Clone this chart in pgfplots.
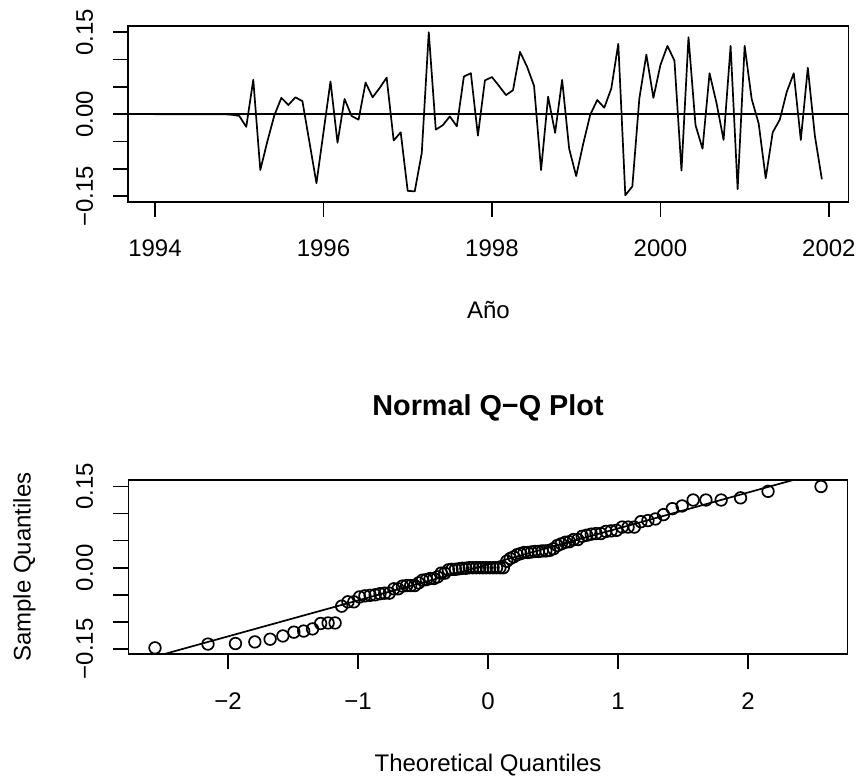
\documentclass[border=0pt]{standalone}
\usepackage{fontspec}
\setmainfont{Liberation Sans}
\usepackage{pgfplots}
\pgfplotsset{compat=1.18}
\usepackage{pgfplotstable}

\pgfplotstableread{
year value
1994.0000 0
1994.0833 0
1994.1667 0
1994.2500 0
1994.3333 0
1994.4167 0
1994.5000 0
1994.5833 0
1994.6667 0
1994.7500 0
1994.8333 0
1994.9167 -0.001
1995.0000 -0.003
1995.0833 -0.023
1995.1667 0.063
1995.2500 -0.102
1995.3333 -0.050
1995.4167 -0.002
1995.5000 0.030
1995.5833 0.017
1995.6667 0.031
1995.7500 0.024
1995.8333 -0.051
1995.9167 -0.126
1996.0000 -0.033
1996.0833 0.060
1996.1667 -0.052
1996.2500 0.028
1996.3333 -0.003
1996.4167 -0.010
1996.5000 0.058
1996.5833 0.031
1996.6667 0.048
1996.7500 0.067
1996.8333 -0.048
1996.9167 -0.033
1997.0000 -0.140
1997.0833 -0.141
1997.1667 -0.071
1997.2500 0.150
1997.3333 -0.028
1997.4167 -0.020
1997.5000 -0.004
1997.5833 -0.022
1997.6667 0.069
1997.7500 0.075
1997.8333 -0.039
1997.9167 0.062
1998.0000 0.068
1998.0833 0.052
1998.1667 0.035
1998.2500 0.044
1998.3333 0.114
1998.4167 0.087
1998.5000 0.052
1998.5833 -0.102
1998.6667 0.032
1998.7500 -0.034
1998.8333 0.063
1998.9167 -0.063
1999.0000 -0.113
1999.0833 -0.054
1999.1667 -0.001
1999.2500 0.026
1999.3333 0.012
1999.4167 0.047
1999.5000 0.129
1999.5833 -0.148
1999.6667 -0.132
1999.7500 0.029
1999.8333 0.109
1999.9167 0.030
2000.0000 0.090
2000.0833 0.125
2000.1667 0.098
2000.2500 -0.103
2000.3333 0.141
2000.4167 -0.020
2000.5000 -0.063
2000.5833 0.075
2000.6667 0.020
2000.7500 -0.047
2000.8333 0.125
2000.9167 -0.137
2001.0000 0.125
2001.0833 0.028
2001.1667 -0.017
2001.2500 -0.117
2001.3333 -0.033
2001.4167 -0.010
2001.5000 0.041
2001.5833 0.075
2001.6667 -0.047
2001.7500 0.085
2001.8333 -0.039
2001.9167 -0.119
}\tsdata

\pgfplotstableread{
theo sample
-2.5615 -0.148
-2.1540 -0.141
-1.9425 -0.140
-1.7934 -0.137
-1.6760 -0.132
-1.5779 -0.126
-1.4931 -0.119
-1.4178 -0.117
-1.3498 -0.113
-1.2875 -0.103
-1.2299 -0.102
-1.1760 -0.102
-1.1254 -0.071
-1.0775 -0.063
-1.0320 -0.063
-0.9885 -0.054
-0.9468 -0.052
-0.9067 -0.051
-0.8680 -0.050
-0.8305 -0.048
-0.7942 -0.047
-0.7589 -0.047
-0.7245 -0.039
-0.6910 -0.039
-0.6582 -0.034
-0.6261 -0.033
-0.5947 -0.033
-0.5638 -0.033
-0.5334 -0.028
-0.5036 -0.023
-0.4741 -0.022
-0.4451 -0.020
-0.4164 -0.020
-0.3881 -0.017
-0.3601 -0.010
-0.3324 -0.010
-0.3049 -0.004
-0.2777 -0.003
-0.2507 -0.003
-0.2238 -0.002
-0.1971 -0.001
-0.1706 -0.001
-0.1441 0
-0.1178 0
-0.0915 0
-0.0653 0
-0.0392 0
-0.0131 0
0.0131 0
0.0392 0
0.0653 0
0.0915 0
0.1178 0
0.1441 0.012
0.1706 0.017
0.1971 0.020
0.2238 0.024
0.2507 0.026
0.2777 0.028
0.3049 0.028
0.3324 0.029
0.3601 0.030
0.3881 0.030
0.4164 0.031
0.4451 0.031
0.4741 0.032
0.5036 0.035
0.5334 0.041
0.5638 0.044
0.5947 0.047
0.6261 0.048
0.6582 0.052
0.6910 0.052
0.7245 0.058
0.7589 0.060
0.7942 0.062
0.8305 0.063
0.8680 0.063
0.9067 0.067
0.9468 0.068
0.9885 0.069
1.0320 0.075
1.0775 0.075
1.1254 0.075
1.1760 0.085
1.2299 0.087
1.2875 0.090
1.3498 0.098
1.4178 0.109
1.4931 0.114
1.5779 0.125
1.6760 0.125
1.7934 0.125
1.9425 0.129
2.1540 0.141
2.5615 0.150
}\qqdata

\begin{document}
\begin{tikzpicture}
\useasboundingbox (0,0) rectangle (430.5pt,-389pt);
\pgfplotsset{
  rstyle/.style={
    scale only axis,
    axis line style={black, line width=0.85pt},
    tick align=outside,
    major tick length=7.5pt,
    every tick/.style={black, line width=0.85pt},
    xtick pos=left, ytick pos=left,
    tick label style={font=\fontsize{12}{14.4}\selectfont},
    label style={font=\fontsize{12}{14.4}\selectfont},
    /pgf/number format/assume math mode=true,
    /pgf/number format/1000 sep={},
    xticklabel style={anchor=base, inner sep=0pt},
    xticklabel shift=20pt,
    yticklabel style={rotate=90, anchor=base, inner sep=0pt},
    yticklabel shift=10.2pt,
    ytick={-0.15,-0.10,-0.05,0,0.05,0.10,0.15},
    yticklabels={{−0.15},{},{},{0.00},{},{},{0.15}},
    ymin=-0.1599, ymax=0.1619,
  }
}
\begin{axis}[rstyle,
  at={(64.15pt,-12.85pt)}, anchor=north west,
  width=360.1pt, height=88pt,
  xmin=1993.683, xmax=2002.233,
  xtick={1994,1996,1998,2000,2002},
  xlabel={Año},
  xlabel style={at={(axis description cs:0.5,-0.6648)}, anchor=base, inner sep=0pt},
]
\addplot[black, line width=0.85pt, no marks] coordinates {(1993.683,0) (2002.233,0)};
\addplot[black, line width=0.85pt, no marks, line join=round] table[x=year, y=value] {\tsdata};
\end{axis}
\begin{axis}[rstyle,
  at={(64.2pt,-240pt)}, anchor=north west,
  width=359.6pt, height=87.15pt,
  xmin=-2.766, xmax=2.766,
  xtick={-2,-1,0,1,2},
  xticklabels={{−2},{−1},{0},{1},{2}},
  xlabel={Theoretical Quantiles},
  xlabel style={at={(axis description cs:0.5,-0.6713)}, anchor=base, inner sep=0pt},
  ylabel={Sample Quantiles},
  ylabel style={at={(axis description cs:-0.1361,0.5)}, anchor=base, inner sep=0pt},
  title={Normal Q−Q Plot},
  title style={at={(axis description cs:0.5,1.3041)}, anchor=base, inner sep=0pt, font=\bfseries\fontsize{14.4}{17}\selectfont},
]
\addplot[black, line width=0.85pt, no marks] coordinates {(-2.766,-0.1777) (2.766,0.1897)};
\addplot[only marks, mark=o, mark size=2.9pt, mark options={line width=0.85pt, black}] table[x=theo, y=sample] {\qqdata};
\end{axis}
\end{tikzpicture}
\end{document}
